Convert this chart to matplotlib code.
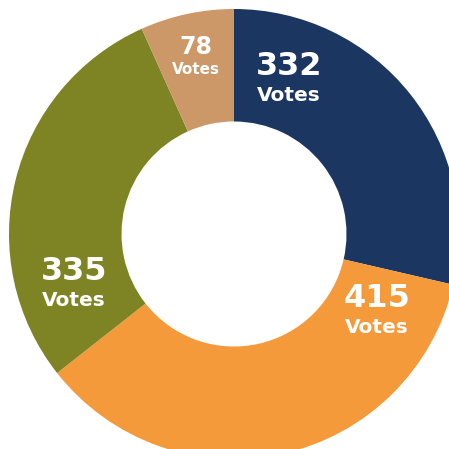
import matplotlib
matplotlib.use("Agg")
import matplotlib.pyplot as plt

votes = [332, 415, 335, 78]
colors = ["#1c3662", "#f59a3a", "#7e8424", "#cc9868"]
# label spots (data coords, pie radius = 1)
label_xy = [(0.245, 0.68), (0.636, -0.35), (-0.711, -0.23), (-0.17, 0.78)]
big = [True, True, True, False]

fig = plt.figure(figsize=(4.49, 4.49), dpi=100)
ax = fig.add_axes([0, 0, 1, 1])
ax.pie(votes, colors=colors, startangle=90, counterclock=False, radius=1,
       wedgeprops=dict(width=0.5, edgecolor="none"))
ax.set_xlim(-234 / 225, (449 - 234) / 225)
ax.set_ylim(-(449 - 234) / 225, 234 / 225)
ax.set_aspect("equal")
ax.axis("off")

for v, (x, y), b in zip(votes, label_xy, big):
    s1, s2 = (23, 14.5) if b else (17, 11)
    ax.text(x, y + (0.065 if b else 0.05), str(v), color="white", fontsize=s1,
            fontweight="bold", ha="center", va="center")
    ax.text(x, y - (0.065 if b else 0.05), "Votes", color="white", fontsize=s2,
            fontweight="bold", ha="center", va="center")

fig.savefig("out.png", dpi=100)
